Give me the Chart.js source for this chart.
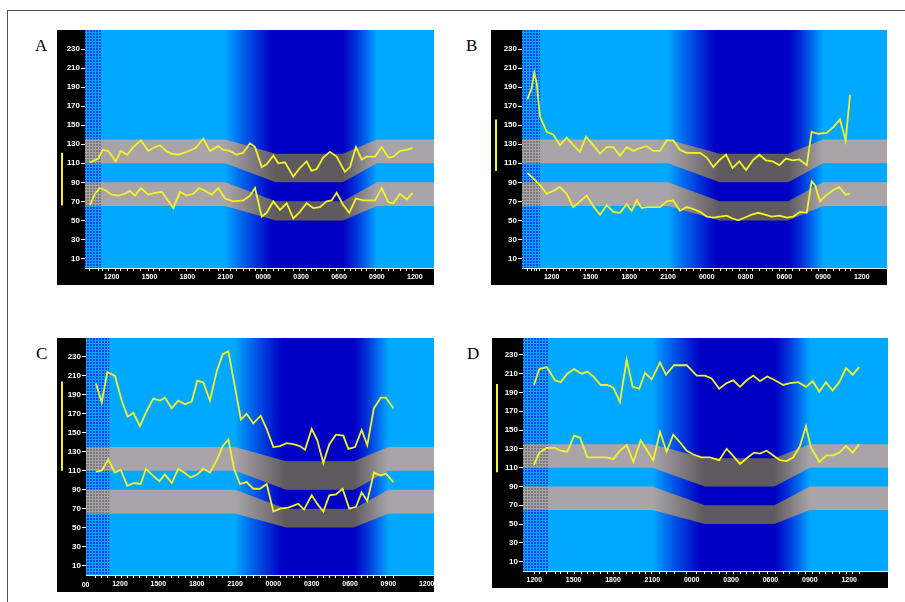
<!DOCTYPE html>
<html>
<head>
<meta charset="utf-8">
<script src="https://cdn.jsdelivr.net/npm/chart.js@4.4.1/dist/chart.umd.min.js"></script>
<style>
  body { margin: 0; background: #fff; width: 905px; height: 602px; position: relative; overflow: hidden; }
  .frame { position: absolute; left: 7px; top: 10px; width: 1000px; height: 700px; border-top: 1px solid #555; border-left: 1px solid #555; }
  .letter { position: absolute; font-family: 'Liberation Serif', 'DejaVu Serif', serif; font-size: 17px; line-height: 1; color: #000; }
  canvas { position: absolute; background: #000; display: block; }
</style>
</head>
<body>
<div class="frame"></div>
<div class="letter" style="left:35px;top:37px">A</div>
<div class="letter" style="left:466px;top:37px">B</div>
<div class="letter" style="left:36px;top:345px">C</div>
<div class="letter" style="left:467px;top:345px">D</div>
<canvas id="chartA" width="377" height="255" style="left:57px;top:30px"></canvas>
<canvas id="chartB" width="396" height="255" style="left:491px;top:30px"></canvas>
<canvas id="chartC" width="377" height="254" style="left:57px;top:338px"></canvas>
<canvas id="chartD" width="396" height="250" style="left:492px;top:338px"></canvas>
<script>
// Время измерения в часах от полуночи первого дня (24 = 00:00 следующего дня)
const timesSysA = [10.28, 10.94, 11.29, 11.73, 12.34, 12.71, 13.24, 13.71, 14.32, 14.9, 15.3, 15.82, 16.3, 16.75, 17.27, 17.94, 18.65, 19.25, 19.78, 20.44, 20.84, 21.37, 21.9, 22.42, 22.95, 23.35, 23.88, 24.27, 24.8, 25.19, 25.72, 26.38, 26.9, 27.43, 27.83, 28.23, 28.75, 29.28, 29.81, 30.47, 30.87, 31.34, 31.79, 32.19, 32.85, 33.38, 33.9, 34.3, 34.83, 35.36, 35.83];
const sysA = [111, 115, 124, 123, 112, 123, 119, 127, 134, 123, 126, 129, 123, 120, 119, 122, 126, 136, 123, 128, 124, 123, 119, 121, 131, 127, 106, 109, 118, 110, 111, 96, 105, 112, 102, 104, 116, 122, 117, 101, 106, 127, 114, 117, 117, 127, 116, 117, 123, 124, 126];
const timesDiaA = [10.28, 10.68, 11.07, 11.47, 12.0, 12.52, 13.05, 13.45, 13.84, 14.32, 14.9, 15.43, 15.96, 16.35, 16.88, 17.41, 17.94, 18.46, 18.94, 19.39, 19.92, 20.44, 20.97, 21.63, 22.42, 22.95, 23.35, 23.88, 24.27, 24.8, 25.33, 25.86, 26.38, 26.9, 27.43, 27.96, 28.49, 29.02, 29.41, 29.81, 30.34, 30.81, 31.34, 31.92, 32.85, 33.38, 33.9, 34.3, 34.83, 35.36, 35.83];
const diaA = [66, 78, 84, 82, 77, 76, 78, 81, 76, 84, 77, 79, 80, 73, 63, 80, 76, 78, 84, 81, 77, 84, 73, 70, 71, 76, 84, 54, 58, 70, 61, 68, 52, 59, 68, 63, 64, 70, 71, 79, 66, 58, 73, 71, 71, 84, 69, 68, 78, 72, 79];

const timesSysB = [10.11, 10.45, 10.65, 10.84, 11.09, 11.61, 12.12, 12.64, 13.16, 13.67, 14.19, 14.65, 15.22, 15.74, 16.26, 16.77, 17.29, 17.8, 18.32, 18.83, 19.35, 19.86, 20.38, 20.9, 21.41, 21.93, 22.45, 22.96, 23.48, 24.0, 24.51, 25.03, 25.49, 26.0, 26.52, 27.04, 27.56, 28.07, 28.59, 29.11, 29.62, 30.13, 30.65, 31.17, 31.74, 32.12, 32.64, 33.28, 33.8, 34.31, 34.75, 35.09];
const sysB = [177, 189, 205, 194, 159, 143, 140, 129, 137, 129, 122, 138, 129, 120, 127, 127, 118, 127, 123, 126, 128, 123, 123, 134, 134, 124, 121, 121, 121, 116, 106, 114, 119, 105, 112, 103, 113, 119, 113, 112, 108, 115, 113, 114, 108, 143, 141, 142, 148, 156, 134, 182];
const timesDiaB = [10.11, 10.58, 11.09, 11.61, 12.12, 12.64, 13.16, 13.67, 14.19, 14.71, 15.22, 15.74, 16.26, 16.77, 17.29, 17.8, 18.19, 18.58, 18.97, 19.35, 20.38, 20.9, 21.41, 21.93, 22.45, 22.96, 23.48, 24.0, 24.51, 25.03, 25.54, 26.0, 26.44, 26.96, 27.48, 27.99, 28.51, 29.03, 29.62, 30.19, 30.7, 31.22, 31.74, 32.12, 32.38, 32.77, 33.28, 33.8, 34.26, 34.75, 35.09];
const diaB = [100, 94, 87, 78, 81, 85, 78, 64, 70, 76, 65, 56, 66, 59, 58, 67, 60, 71, 63, 64, 64, 70, 71, 60, 64, 62, 59, 54, 53, 54, 55, 52, 50, 53, 56, 58, 56, 54, 55, 53, 54, 59, 58, 91, 87, 70, 77, 82, 85, 77, 78];

const timesSysC = [10.12, 10.57, 11.01, 11.61, 12.13, 12.6, 13.04, 13.56, 14.09, 14.61, 15.13, 15.52, 16.05, 16.56, 17.09, 17.61, 18.05, 18.52, 19.04, 19.57, 20.04, 20.48, 21.0, 21.46, 21.9, 22.43, 23.01, 23.48, 24.0, 24.52, 25.04, 25.56, 26.08, 26.48, 27.0, 27.44, 27.91, 28.38, 28.9, 29.47, 29.87, 30.39, 30.91, 31.35, 31.87, 32.4, 32.81, 33.39];
const sysC = [202, 182, 214, 210, 184, 167, 171, 157, 173, 186, 184, 187, 176, 184, 180, 183, 205, 203, 184, 215, 233, 236, 198, 164, 170, 160, 168, 154, 135, 136, 139, 138, 136, 132, 154, 142, 118, 138, 148, 147, 133, 135, 153, 137, 176, 187, 187, 176];
const timesDiaC = [10.12, 10.57, 11.08, 11.61, 12.05, 12.57, 13.1, 13.62, 14.03, 14.56, 15.08, 15.52, 16.05, 16.56, 17.01, 17.53, 18.05, 18.52, 19.04, 19.57, 20.04, 20.48, 20.92, 21.39, 21.91, 22.43, 22.95, 23.48, 24.0, 24.52, 25.17, 25.95, 26.4, 27.0, 27.44, 27.91, 28.38, 28.9, 29.42, 29.94, 30.47, 30.91, 31.35, 31.87, 32.4, 32.81, 33.39];
const diaC = [109, 110, 122, 108, 111, 94, 97, 96, 112, 105, 99, 106, 97, 112, 108, 103, 106, 112, 108, 121, 136, 143, 112, 96, 98, 91, 91, 96, 67, 70, 71, 75, 69, 84, 75, 67, 84, 85, 91, 70, 72, 87, 78, 108, 105, 107, 98];

const timesSysD = [11.98, 12.38, 12.95, 13.58, 14.01, 14.52, 15.03, 15.61, 16.04, 16.5, 17.06, 17.56, 18.02, 18.53, 19.04, 19.5, 20.0, 20.44, 20.95, 21.58, 22.04, 22.65, 23.62, 24.38, 25.01, 25.52, 26.1, 26.66, 27.17, 27.68, 28.19, 28.69, 29.2, 29.76, 30.35, 30.98, 31.49, 32.12, 32.71, 33.22, 33.72, 34.23, 34.74, 35.25, 35.76, 36.27, 36.77];
const sysD = [198, 215, 217, 203, 201, 210, 215, 210, 212, 207, 198, 198, 195, 180, 225, 196, 194, 211, 204, 222, 209, 219, 219, 208, 208, 205, 194, 200, 203, 196, 203, 208, 202, 207, 203, 198, 200, 201, 196, 202, 191, 201, 192, 201, 216, 209, 217];
const timesDiaD = [11.98, 12.38, 12.95, 13.58, 14.01, 14.52, 15.03, 15.48, 16.04, 16.62, 17.52, 18.02, 18.53, 19.04, 19.55, 20.11, 20.57, 21.07, 21.58, 22.09, 22.59, 23.1, 23.62, 24.12, 24.76, 25.39, 26.1, 26.66, 27.12, 27.68, 28.19, 28.75, 29.2, 29.71, 30.22, 30.73, 31.24, 31.74, 32.25, 32.71, 33.07, 33.72, 34.29, 34.79, 35.25, 35.76, 36.27, 36.77];
const diaD = [113, 126, 131, 131, 128, 127, 144, 142, 121, 121, 121, 119, 128, 134, 116, 139, 129, 118, 148, 127, 145, 137, 128, 124, 121, 121, 118, 130, 123, 114, 120, 126, 125, 128, 123, 118, 117, 121, 133, 154, 132, 116, 123, 123, 126, 133, 126, 135];

// Коридоры нормы: день -> ночь -> день
const bandTimes = [0, 21, 25, 30.3, 33, 48];
const sysBandLow = [110, 110, 90, 90, 110, 110];
const sysBandHigh = [135, 135, 120, 120, 135, 135];
const diaBandLow = [65, 65, 50, 50, 65, 65];
const diaBandHigh = [90, 90, 70, 70, 90, 90];

// Ночь (затемнение фона)
const nightTimes = [21, 22, 23.5, 24.7, 30.3, 31.3, 32.3, 33];

// Подписи осей
const yTickValues = [10, 20, 30, 40, 50, 60, 70, 80, 90, 100, 110, 120, 130, 140, 150, 160, 170, 180, 190, 200, 210, 220, 230, 240];
const yTickLabels = [10, 30, 50, 70, 90, 110, 130, 150, 170, 190, 210, 230];
const xLabelHours = [9, 12, 15, 18, 21, 24, 27, 30, 33, 36, 39];

// Жёлтые метки слева от оси
const markerA = [66, 121];
const markerB = [102, 156];
const markerC = [110, 204];
const markerD = [105, 199];

// Конец заштрихованного участка (первый час)
const dotEndA = 11.2, dotEndB = 11.1, dotEndC = 11.16, dotEndD = 13.07;

const YELLOW = '#f2f22a';
const nightColors = ['#00a8ff', '#0072f0', '#0030d8', '#0000c2', '#0000c2', '#0030d8', '#0072f0', '#00a8ff'];
const bandColors = ['#a8a4a8', '#a8a4a8', '#5e5a5e', '#5e5a5e', '#a8a4a8', '#a8a4a8'];

Chart.defaults.font.family = 'Arial, "Liberation Sans", sans-serif';

function pts(times, vals) {
    return times.map((t, i) => ({ x: t, y: vals[i] }));
}

function hhmm(h) {
    const v = ((h % 24) + 24) % 24;
    return String(v).padStart(2, '0') + '00';
}

// Горизонтальный градиент по времени
function timeGradient(chart, times, colors) {
    const { ctx, chartArea, scales } = chart;
    if (!chartArea || !scales.x) return null;
    const x = scales.x;
    const x0 = x.getPixelForValue(times[0]);
    const x1 = x.getPixelForValue(times[times.length - 1]);
    const g = ctx.createLinearGradient(x0, 0, x1, 0);
    times.forEach((t, i) => {
        g.addColorStop((x.getPixelForValue(t) - x0) / (x1 - x0), colors[i]);
    });
    return g;
}

function dotPattern(ctx, color) {
    const c = document.createElement('canvas');
    c.width = 3;
    c.height = 3;
    const g = c.getContext('2d');
    g.fillStyle = color;
    g.fillRect(0, 0, 2, 2);
    return ctx.createPattern(c, 'repeat');
}

// Фон, штриховка, метки
const decor = {
    id: 'decor',
    beforeDatasetsDraw(chart, args, opts) {
        const { ctx, chartArea: a, scales: { x } } = chart;
        ctx.save();
        ctx.fillStyle = timeGradient(chart, nightTimes, nightColors);
        ctx.fillRect(a.left, a.top, a.width, a.height);
        const xe = x.getPixelForValue(opts.dotEnd);
        ctx.fillStyle = dotPattern(ctx, '#0a46f0');
        ctx.fillRect(a.left, a.top, xe - a.left, a.height);
        ctx.restore();
    },
    afterDatasetDraw(chart, args, opts) {
        const ds = chart.data.datasets[args.index];
        if (!ds.isBand) return;
        const { ctx, chartArea: a, scales: { x, y } } = chart;
        const low = chart.data.datasets[args.index - 1].data[0].y;
        const high = ds.data[0].y;
        const xe = x.getPixelForValue(opts.dotEnd);
        const yt = y.getPixelForValue(high);
        const yb = y.getPixelForValue(low);
        ctx.save();
        ctx.fillStyle = dotPattern(ctx, '#7a787a');
        ctx.fillRect(a.left, yt, xe - a.left, yb - yt);
        ctx.restore();
    },
    afterDraw(chart, args, opts) {
        const { ctx, chartArea: a, scales: { x, y } } = chart;
        ctx.save();
        ctx.strokeStyle = YELLOW;
        ctx.lineWidth = 2;
        ctx.beginPath();
        ctx.moveTo(5, y.getPixelForValue(opts.marker[0]));
        ctx.lineTo(5, y.getPixelForValue(opts.marker[1]));
        ctx.stroke();
        // подпись, обрезанная краем оси (только панель C)
        if (opts.edgeLabel) {
            const h = xLabelHours.filter(v => v < x.min).pop();
            const px = x.getPixelForValue(h);
            ctx.beginPath();
            ctx.rect(a.left - 4, a.bottom, a.width, chart.height - a.bottom);
            ctx.clip();
            ctx.fillStyle = '#fff';
            ctx.font = 'bold 7px Arial, "Liberation Sans", sans-serif';
            ctx.textAlign = 'center';
            ctx.textBaseline = 'middle';
            ctx.fillText(hhmm(h), px, a.bottom + 10);
        }
        ctx.restore();
    }
};

function makeChart(id, p) {
    const line = (times, vals) => ({
        data: pts(times, vals),
        borderColor: YELLOW,
        borderWidth: 1.8,
        pointRadius: 0,
        tension: 0,
        fill: false,
        order: 0
    });
    const edge = (vals, isBand) => ({
        data: pts(bandTimes, vals),
        borderColor: 'transparent',
        borderWidth: 1,
        pointRadius: 0,
        fill: isBand ? '-1' : false,
        backgroundColor: ctx => timeGradient(ctx.chart, bandTimes, bandColors) || '#a8a4a8',
        isBand: isBand,
        order: 1
    });

    new Chart(document.getElementById(id), {
        type: 'line',
        data: {
            datasets: [
                line(p.tSys, p.sys),
                line(p.tDia, p.dia),
                edge(sysBandLow, false),
                edge(sysBandHigh, true),
                edge(diaBandLow, false),
                edge(diaBandHigh, true)
            ]
        },
        options: {
            responsive: false,
            animation: false,
            devicePixelRatio: 1,
            layout: { padding: 0 },
            plugins: {
                legend: { display: false },
                tooltip: { enabled: false },
                decor: { dotEnd: p.dotEnd, marker: p.marker, edgeLabel: !!p.edgeLabel }
            },
            scales: {
                x: {
                    type: 'linear',
                    min: p.xMin,
                    max: p.xMax,
                    afterBuildTicks: s => {
                        const ticks = xLabelHours
                            .filter(h => h >= p.xMin && h <= p.xMax)
                            .map(h => ({ value: h, lab: true }));
                        p.tSys.forEach(t => {
                            if (!ticks.some(tk => Math.abs(tk.value - t) < 0.01)) ticks.push({ value: t });
                        });
                        s.ticks = ticks.sort((a, b) => a.value - b.value);
                    },
                    afterFit: s => {
                        s.height = 17;
                        s.paddingLeft = 0;
                        s.paddingRight = 0;
                    },
                    ticks: {
                        autoSkip: false,
                        maxRotation: 0,
                        minRotation: 0,
                        padding: 2,
                        color: '#fff',
                        font: { size: 7, weight: 'bold' },
                        callback: (v, i, ticks) => (ticks[i].lab ? hhmm(v) : '')
                    },
                    grid: {
                        drawOnChartArea: false,
                        tickLength: 3,
                        tickColor: ctx => (ctx.tick && ctx.tick.lab ? 'transparent' : '#fff')
                    },
                    border: { color: '#e8e8e8', width: 1 }
                },
                y: {
                    min: 0,
                    max: p.yMax,
                    afterBuildTicks: s => {
                        s.ticks = yTickValues.map(v => ({ value: v }));
                    },
                    afterFit: s => {
                        s.width = p.yWidth;
                        s.paddingTop = 0;
                        s.paddingBottom = 0;
                    },
                    ticks: {
                        padding: 1,
                        color: '#fff',
                        font: { size: 8, weight: 'bold' },
                        callback: v => (yTickLabels.includes(v) ? String(v) : '')
                    },
                    grid: {
                        drawOnChartArea: false,
                        tickLength: 4,
                        tickColor: ctx => (ctx.tick && yTickLabels.includes(ctx.tick.value) ? '#fff' : 'rgba(255,255,255,0.5)')
                    },
                    border: { color: '#e8e8e8', width: 1 }
                }
            }
        },
        plugins: [decor]
    });
}

makeChart('chartA', { tSys: timesSysA, sys: sysA, tDia: timesDiaA, dia: diaA, xMin: 9.89, xMax: 37.52, yMax: 250, yWidth: 28, dotEnd: dotEndA, marker: markerA });
makeChart('chartB', { tSys: timesSysB, sys: sysB, tDia: timesDiaB, dia: diaB, xMin: 9.7, xMax: 37.95, yMax: 250, yWidth: 31, dotEnd: dotEndB, marker: markerB });
makeChart('chartC', { tSys: timesSysC, sys: sysC, tDia: timesDiaC, dia: diaC, xMin: 9.34, xMax: 36.57, yMax: 250, yWidth: 29, dotEnd: dotEndC, marker: markerC, edgeLabel: true });
makeChart('chartD', { tSys: timesSysD, sys: sysD, tDia: timesDiaD, dia: diaD, xMin: 11.14, xMax: 38.96, yMax: 248, yWidth: 31, dotEnd: dotEndD, marker: markerD });
</script>
</body>
</html>
